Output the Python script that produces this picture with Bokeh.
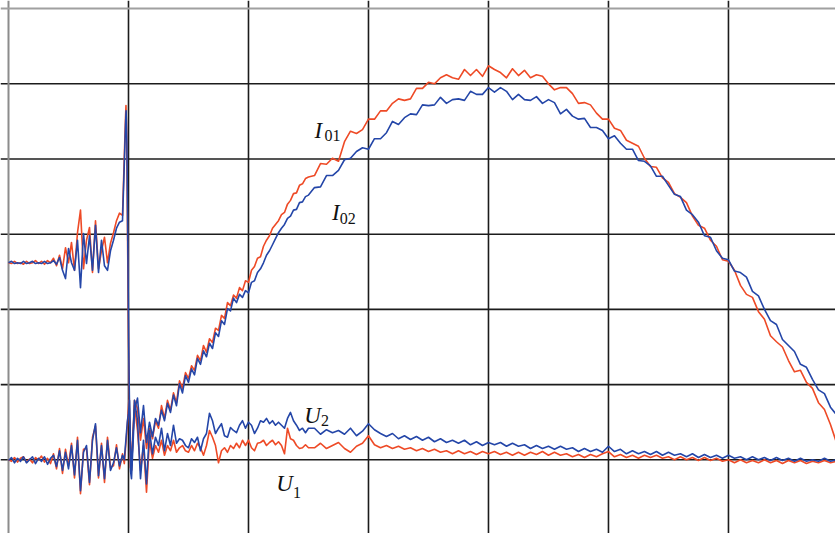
import numpy as np
from bokeh.plotting import figure
from bokeh.models import Span, Range1d, ColumnDataSource
from bokeh.core.properties import value
from bokeh.embed import file_html
from bokeh.resources import INLINE

# time axis in divisions, amplitude in divisions
# segment 1: pre-trigger, t = 0 .. 0.95 step 0.025
I01_s1 = [2.62, 2.61, 2.64, 2.61, 2.62, 2.60, 2.64, 2.61, 2.62, 2.65, 2.61, 2.64, 2.60, 2.65, 2.62, 2.68,
          2.58, 2.72, 2.54, 2.82, 2.62, 2.89, 2.52, 3.02, 3.32, 2.54, 2.92, 3.09, 2.49, 3.18, 2.54, 2.78,
          2.96, 2.62, 2.88, 3.02, 3.18, 3.28, 3.25]
I02_s1 = [2.62, 2.64, 2.61, 2.62, 2.61, 2.64, 2.61, 2.62, 2.64, 2.61, 2.62, 2.61, 2.64, 2.61, 2.62, 2.65,
          2.60, 2.69, 2.52, 2.41, 2.81, 2.62, 2.52, 2.92, 2.29, 3.01, 2.61, 2.98, 2.52, 3.12, 2.49, 2.92,
          2.58, 2.52, 2.78, 2.92, 3.08, 3.16, 3.18]
U2_s1 = [-0.01, 0.03, -0.04, 0.02, -0.02, 0.04, -0.04, 0.00, 0.04, -0.05, 0.02, -0.02, 0.04, -0.06, 0.02,
         0.06, -0.09, 0.12, -0.14, 0.10, -0.12, 0.19, -0.20, 0.26, -0.41, 0.10, 0.19, -0.30, 0.26, 0.48,
         -0.21, 0.19, -0.25, 0.26, -0.14, -0.04, 0.16, -0.08, 0.06]
U1_s1 = [0.00, -0.02, 0.03, -0.03, 0.02, 0.04, -0.03, 0.01, -0.04, 0.03, 0.00, 0.05, -0.03, 0.02, -0.05,
         0.08, -0.12, 0.15, -0.18, 0.14, -0.08, 0.22, -0.24, 0.30, -0.45, 0.14, 0.15, -0.33, 0.30, 0.45,
         -0.24, 0.22, -0.30, 0.30, -0.10, -0.08, 0.20, -0.12, 0.08]

# trigger spike
I01_spike_t = [0.9625, 0.975, 0.979, 0.985, 0.992, 1.0, 1.008, 1.015]
I01_spike_v = [3.9, 4.55, 4.71, 4.3, 3.0, 1.6, 0.6, -0.1]
I02_spike_t = [0.9625, 0.975, 0.98, 0.987, 0.994, 1.002, 1.01, 1.017]
I02_spike_v = [3.8, 4.45, 4.64, 4.2, 2.9, 1.5, 0.5, -0.15]
U2_spike_t = [0.965, 0.975, 0.99, 1.0, 1.008, 1.016]
U2_spike_v = [0.0, 0.2, 0.5, 0.62, 0.79, 0.2]
U1_spike_t = [0.965, 0.975, 0.99, 1.003, 1.012, 1.019]
U1_spike_v = [-0.05, 0.15, 0.45, 0.79, 0.5, 0.1]

# segment 2: t = 1.025 .. 2.5 step 0.025
I01_s2 = [-0.14, 0.79, 0.68, 0.26, 0.55, 0.15, 0.42, 0.28, 0.52, 0.42, 0.72, 0.55, 0.79, 0.66, 0.89, 0.76,
          1.05, 0.95, 1.16, 1.08, 1.25, 1.19, 1.39, 1.32, 1.52, 1.43, 1.61, 1.56, 1.75, 1.72, 1.92, 1.88,
          2.09, 2.05, 2.19, 2.15, 2.29, 2.25, 2.38, 2.36, 2.52, 2.57, 2.68, 2.70, 2.84, 2.92, 2.98, 3.08,
          3.13, 3.18, 3.26, 3.29, 3.40, 3.45, 3.54, 3.55, 3.65, 3.67, 3.74, 3.76]
I02_s2 = [-0.25, 0.66, 0.82, 0.36, 0.72, 0.23, 0.50, 0.31, 0.55, 0.46, 0.66, 0.52, 0.75, 0.63, 0.86, 0.72,
          1.01, 0.89, 1.12, 1.03, 1.21, 1.13, 1.35, 1.27, 1.45, 1.37, 1.55, 1.48, 1.69, 1.64, 1.85, 1.80,
          2.01, 1.98, 2.15, 2.09, 2.20, 2.16, 2.25, 2.22, 2.36, 2.38, 2.49, 2.54, 2.62, 2.72, 2.78, 2.86,
          2.94, 3.02, 3.08, 3.13, 3.21, 3.24, 3.32, 3.33, 3.42, 3.43, 3.50, 3.52]
U2_s2 = [-0.14, 0.79, 0.52, -0.25, 0.26, -0.32, 0.39, 0.08, 0.30, 0.19, 0.42, 0.12, 0.35, 0.19, 0.46, 0.22,
         0.28, 0.26, 0.19, 0.16, 0.28, 0.23, 0.30, 0.12, 0.28, 0.35, 0.62, 0.52, 0.35, 0.42, 0.48, 0.32,
         0.30, 0.43, 0.39, 0.36, 0.46, 0.52, 0.42, 0.50, 0.46, 0.35, 0.42, 0.52, 0.50, 0.55, 0.48, 0.52,
         0.46, 0.50, 0.46, 0.42, 0.55, 0.63, 0.52, 0.46, 0.39, 0.42, 0.36, 0.42]
U1_s2 = [-0.08, 0.72, 0.39, -0.14, 0.19, -0.43, 0.26, 0.02, 0.19, 0.10, 0.26, 0.06, 0.19, 0.12, 0.26, 0.10,
         0.16, 0.19, 0.12, 0.10, 0.19, 0.12, 0.22, 0.16, 0.06, 0.19, 0.39, 0.30, 0.19, -0.04, 0.12, 0.16,
         0.10, 0.19, 0.15, 0.22, 0.16, 0.26, 0.19, 0.26, 0.16, 0.12, 0.22, 0.23, 0.26, 0.19, 0.23, 0.26,
         0.20, 0.24, 0.19, 0.08, 0.42, 0.28, 0.26, 0.19, 0.15, 0.16, 0.20, 0.16]

# segment 3: t = 2.55 .. 6.9 step 0.05
I01_s3 = [3.78, 3.94, 3.93, 4.01, 3.97, 4.23, 4.37, 4.34, 4.39, 4.53, 4.53, 4.64, 4.64, 4.74, 4.80, 4.78,
          4.80, 4.94, 4.94, 5.02, 5.00, 5.08, 5.12, 5.08, 5.06, 5.19, 5.11, 5.19, 5.10, 5.24, 5.19, 5.15,
          5.08, 5.20, 5.11, 5.18, 5.08, 5.12, 5.10, 5.00, 4.92, 4.95, 4.95, 4.87, 4.74, 4.75, 4.72, 4.61,
          4.53, 4.53, 4.41, 4.38, 4.25, 4.21, 4.17, 4.01, 3.90, 3.89, 3.75, 3.69, 3.54, 3.49, 3.42, 3.24,
          3.12, 3.08, 2.92, 2.84, 2.66, 2.64, 2.52, 2.32, 2.20, 2.16, 1.97, 1.87, 1.65, 1.57, 1.50, 1.32,
          1.17, 1.19, 1.03, 0.95, 0.76, 0.67, 0.47, 0.23]
I02_s3 = [3.62, 3.63, 3.78, 3.78, 3.85, 3.99, 4.01, 4.10, 4.15, 4.13, 4.27, 4.27, 4.35, 4.50, 4.46, 4.55,
          4.60, 4.59, 4.72, 4.71, 4.72, 4.82, 4.74, 4.79, 4.80, 4.78, 4.90, 4.86, 4.86, 4.95, 4.89, 4.95,
          4.90, 4.79, 4.86, 4.79, 4.78, 4.83, 4.74, 4.79, 4.75, 4.60, 4.66, 4.57, 4.53, 4.54, 4.42, 4.42,
          4.38, 4.27, 4.31, 4.21, 4.13, 4.13, 3.98, 3.97, 3.91, 3.77, 3.77, 3.65, 3.53, 3.50, 3.32, 3.26,
          3.16, 2.98, 2.96, 2.78, 2.68, 2.66, 2.51, 2.49, 2.43, 2.24, 2.18, 2.00, 1.85, 1.80, 1.60, 1.52,
          1.44, 1.27, 1.23, 1.07, 0.93, 0.88, 0.70, 0.60]
U2_s3 = [0.42, 0.34, 0.40, 0.36, 0.39, 0.34, 0.42, 0.32, 0.38, 0.48, 0.40, 0.35, 0.31, 0.35, 0.28, 0.32,
         0.27, 0.31, 0.26, 0.30, 0.24, 0.28, 0.23, 0.26, 0.22, 0.26, 0.20, 0.24, 0.19, 0.23, 0.20, 0.23,
         0.18, 0.22, 0.18, 0.20, 0.15, 0.19, 0.15, 0.18, 0.14, 0.18, 0.14, 0.16, 0.11, 0.15, 0.11, 0.14,
         0.10, 0.18, 0.11, 0.14, 0.08, 0.12, 0.08, 0.11, 0.07, 0.11, 0.06, 0.10, 0.06, 0.08, 0.04, 0.08,
         0.03, 0.07, 0.03, 0.06, 0.02, 0.06, 0.02, 0.04, 0.00, 0.04, 0.00, 0.03, -0.01, 0.03, -0.01, 0.02,
         -0.02, 0.02, -0.02, 0.00, -0.02, 0.02, -0.02, 0.00]
U1_s3 = [0.16, 0.22, 0.15, 0.19, 0.23, 0.15, 0.10, 0.18, 0.22, 0.32, 0.20, 0.16, 0.19, 0.15, 0.18, 0.14,
         0.16, 0.12, 0.15, 0.11, 0.14, 0.10, 0.12, 0.08, 0.12, 0.08, 0.11, 0.07, 0.11, 0.08, 0.11, 0.07,
         0.10, 0.06, 0.10, 0.06, 0.10, 0.07, 0.11, 0.06, 0.10, 0.06, 0.08, 0.04, 0.07, 0.03, 0.07, 0.04,
         0.08, 0.11, 0.04, 0.07, 0.03, 0.06, 0.02, 0.06, 0.03, 0.06, 0.02, 0.04, 0.00, 0.04, 0.00, 0.03,
         -0.01, 0.03, -0.01, 0.02, -0.02, 0.00, -0.04, 0.00, -0.04, -0.01, -0.04, 0.00, -0.04, -0.01, -0.05,
         -0.01, -0.04, -0.01, -0.05, -0.02, -0.04, -0.01, -0.04, -0.02]

# trace labels
label_main = ["I", "I", "U", "U"]
label_sub = ["01", "02", "2", "1"]

RED = "#ee4a26"
BLUE = "#2446a8"


def assemble(s1, sp_t, sp_v, s2, s3):
    t1 = 0.0 + 0.025 * np.arange(len(s1))
    t2 = 1.025 + 0.025 * np.arange(len(s2))
    t3 = 2.55 + 0.05 * np.arange(len(s3))
    t = np.concatenate([t1, np.array(sp_t), t2, t3])
    v = np.concatenate([np.array(s1), np.array(sp_v), np.array(s2), np.array(s3)])
    order = np.argsort(t, kind="stable")
    return t[order], v[order]


p = figure(width=835, height=533, output_backend="svg", toolbar_location=None,
           x_range=Range1d(-0.0667, 6.892), y_range=Range1d(-0.980, 6.108),
           min_border=0)
p.axis.visible = False
p.grid.visible = False
p.outline_line_color = None
p.background_fill_color = "white"
p.border_fill_color = "white"

# graticule
for xv in range(1, 7):
    p.add_layout(Span(location=xv, dimension="height", line_color="#1c1c1c", line_width=1.6, level="underlay"))
for yv in range(0, 6):
    p.add_layout(Span(location=yv, dimension="width", line_color="#1c1c1c", line_width=1.6, level="underlay"))
p.add_layout(Span(location=0, dimension="height", line_color="#8c8c8c", line_width=2, level="underlay"))
p.add_layout(Span(location=6, dimension="width", line_color="#a0a0a0", line_width=2, level="underlay"))

traces = [
    (U1_s1, U1_spike_t, U1_spike_v, U1_s2, U1_s3, RED),
    (I01_s1, I01_spike_t, I01_spike_v, I01_s2, I01_s3, RED),
    (U2_s1, U2_spike_t, U2_spike_v, U2_s2, U2_s3, BLUE),
    (I02_s1, I02_spike_t, I02_spike_v, I02_s2, I02_s3, BLUE),
]
for s1, spt, spv, s2, s3, col in traces:
    t, v = assemble(s1, spt, spv, s2, s3)
    p.line(t, v, line_color=col, line_width=1.6, line_join="round")

main_src = ColumnDataSource(dict(x=[2.55, 2.695, 2.465, 2.232], y=[4.38, 3.29, 0.59, -0.31], text=label_main))
sub_src = ColumnDataSource(dict(x=[2.633, 2.76, 2.605, 2.37], y=[4.31, 3.21, 0.52, -0.43], text=label_sub))
p.text(x="x", y="y", text="text", source=main_src, text_font=value("Liberation Serif"),
       text_font_style="italic", text_font_size="23px", text_baseline="alphabetic",
       text_align="left", text_color="#111111")
p.text(x="x", y="y", text="text", source=sub_src, text_font=value("Liberation Serif"),
       text_font_style="normal", text_font_size="16px", text_baseline="alphabetic",
       text_align="left", text_color="#111111")

open("out.html", "w").write(file_html(p, INLINE))
